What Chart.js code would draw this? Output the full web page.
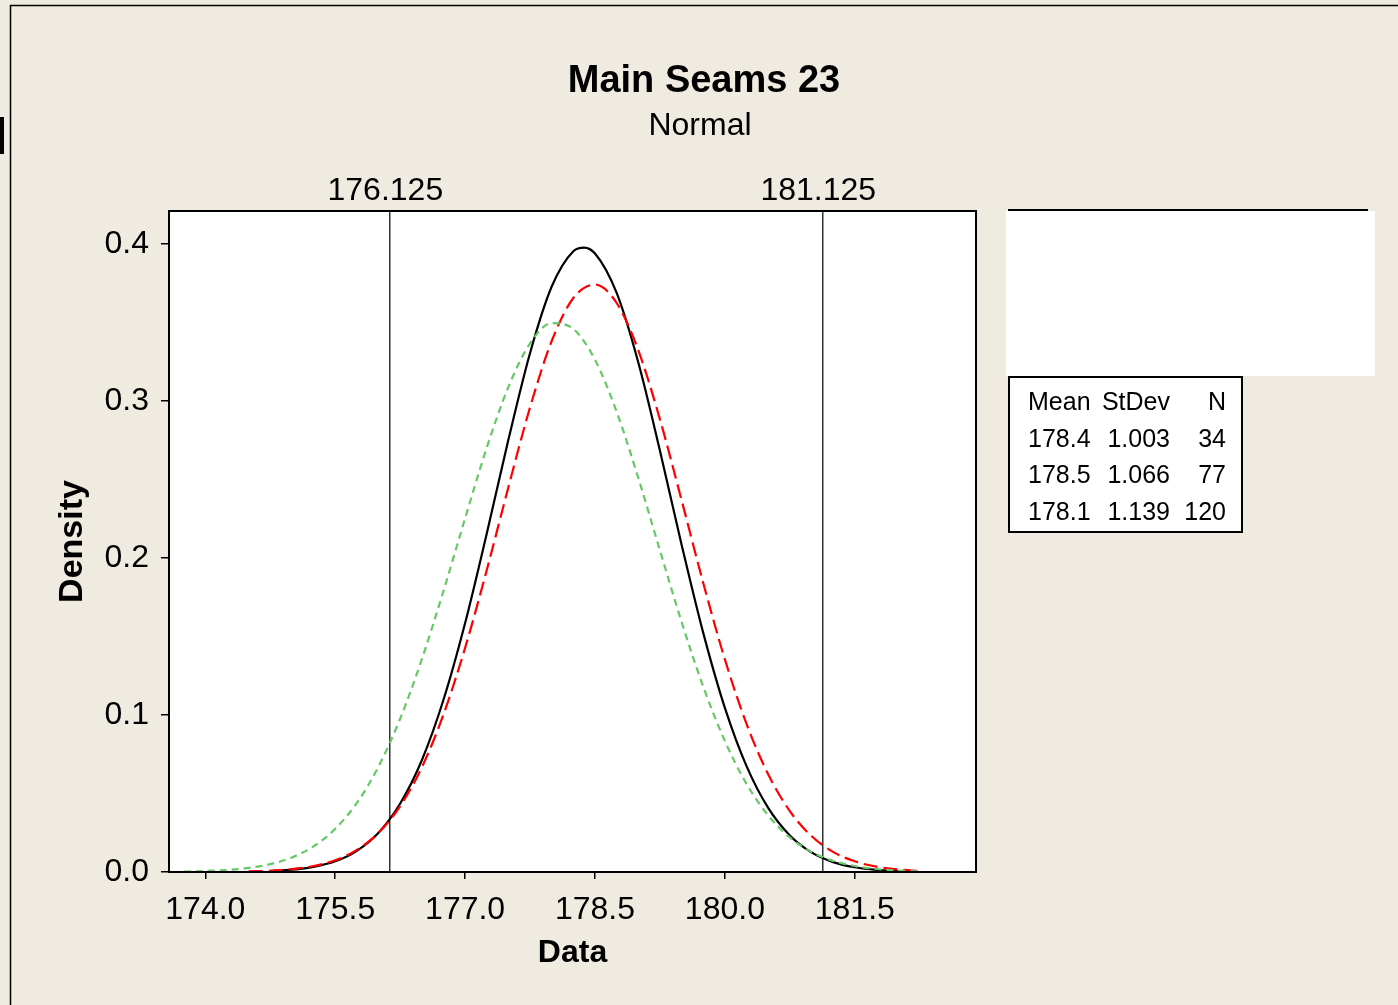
<!DOCTYPE html>
<html><head><meta charset="utf-8">
<script src="https://cdn.jsdelivr.net/npm/chart.js@4.4.1/dist/chart.umd.min.js"></script>
<style>html,body{margin:0;padding:0;background:#EFEBE1;overflow:hidden}#wrap{width:1398px;height:1005px;position:relative}canvas{display:block}</style>
</head><body><div id="wrap"><canvas id="c" width="1398" height="1005"></canvas></div>
<script>
const chartTitle = 'Main Seams 23';
const chartSubtitle = 'Normal';
const xAxisTitle = 'Data';
const yAxisTitle = 'Density';
const xTicks = [174.0, 175.5, 177.0, 178.5, 180.0, 181.5];
const yTicks = [0.0, 0.1, 0.2, 0.3, 0.4];
const refLines = [176.125, 181.125];
const tableHeader = ['Mean', 'StDev', 'N'];
const seriesMeans = [178.4, 178.5, 178.1];
const seriesStDevs = [1.003, 1.066, 1.139];
const seriesN = [34, 77, 120];

const blackX = [174.75,175.0,175.25,175.5,175.75,176.0,176.25,176.5,176.75,177.0,177.25,177.5,177.75,178.0,178.25,178.375,178.5,178.75,179.0,179.25,179.5,179.75,180.0,180.25,180.5,180.75,181.0,181.25,181.5,181.75,182.0];
const blackY = [0.0006,0.0015,0.0033,0.0068,0.0135,0.0250,0.0436,0.0712,0.1097,0.1586,0.2156,0.2754,0.3306,0.3729,0.3954,0.3977,0.3939,0.3688,0.3245,0.2683,0.2085,0.1523,0.1045,0.0674,0.0408,0.0233,0.0125,0.0063,0.0030,0.0013,0.0006];
const redX = [174.5,174.75,175.0,175.25,175.5,175.75,176.0,176.25,176.5,176.75,177.0,177.25,177.5,177.75,178.0,178.25,178.5,178.75,179.0,179.25,179.5,179.75,180.0,180.25,180.5,180.75,181.0,181.25,181.5,181.75,182.0,182.25];
const redY = [0.0004,0.0008,0.0018,0.0038,0.0075,0.0141,0.0250,0.0420,0.0667,0.1003,0.1428,0.1923,0.2452,0.2960,0.3382,0.3656,0.3741,0.3624,0.3323,0.2883,0.2368,0.1841,0.1354,0.0943,0.0622,0.0388,0.0229,0.0128,0.0068,0.0034,0.0016,0.0007];
const greenX = [173.75,174.0,174.25,174.5,174.75,175.0,175.25,175.5,175.75,176.0,176.25,176.5,176.75,177.0,177.25,177.5,177.75,178.0,178.25,178.5,178.75,179.0,179.25,179.5,179.75,180.0,180.25,180.5,180.75,181.0,181.25,181.5,181.75,182.0,182.25];
const greenY = [0.0003,0.0006,0.0013,0.0026,0.0050,0.0093,0.0163,0.0275,0.0440,0.0672,0.0977,0.1355,0.1790,0.2253,0.2703,0.3090,0.3367,0.3496,0.3459,0.3262,0.2931,0.2510,0.2048,0.1593,0.1180,0.0834,0.0561,0.0360,0.0220,0.0128,0.0071,0.0038,0.0019,0.0009,0.0004];

const FONT = "'Liberation Sans', Arial, sans-serif";
const BG = '#EFEBE1';

function pts(xs, ys) { return xs.map((x, i) => ({x: x, y: ys[i]})); }

const decor = {
  id: 'decor',
  beforeDraw(chart) {
    const ctx = chart.ctx, a = chart.chartArea;
    ctx.save();
    ctx.fillStyle = BG; ctx.fillRect(0, 0, chart.width, chart.height);
    ctx.strokeStyle = '#000'; ctx.lineWidth = 1.5;
    ctx.beginPath(); ctx.moveTo(10.5, chart.height); ctx.lineTo(10.5, 5.5); ctx.lineTo(chart.width, 5.5); ctx.stroke();
    ctx.fillStyle = '#000'; ctx.fillRect(0, 117, 4, 37);
    ctx.fillStyle = '#fff'; ctx.fillRect(a.left, a.top, a.right - a.left, a.bottom - a.top);
    ctx.fillRect(1006, 211, 369, 165);
    ctx.fillStyle = '#000'; ctx.fillRect(1008, 209, 360, 2);
    ctx.restore();
  },
  afterDraw(chart) {
    const ctx = chart.ctx, a = chart.chartArea;
    ctx.save();
    ctx.strokeStyle = '#000'; ctx.lineWidth = 2;
    ctx.strokeRect(a.left, a.top, a.right - a.left, a.bottom - a.top);
    ctx.fillStyle = '#000'; ctx.textAlign = 'center'; ctx.textBaseline = 'alphabetic';
    ctx.font = 'bold 38px ' + FONT; ctx.fillText(chartTitle, 704, 92);
    ctx.font = '32px ' + FONT; ctx.fillText(chartSubtitle, 700, 135);
    // statistics table
    ctx.fillStyle = '#fff'; ctx.fillRect(1009, 377, 233, 155);
    ctx.strokeStyle = '#000'; ctx.lineWidth = 2; ctx.strokeRect(1009, 377, 233, 155);
    ctx.fillStyle = '#000'; ctx.font = '25px ' + FONT;
    const rows = [tableHeader].concat(seriesMeans.map((m, i) => [m.toFixed(1), seriesStDevs[i].toFixed(3), String(seriesN[i])]));
    const base = [410, 447, 483, 520];
    rows.forEach((r, i) => {
      ctx.textAlign = 'left'; ctx.fillText(r[0], 1028, base[i]);
      ctx.textAlign = 'right'; ctx.fillText(r[1], 1170, base[i]);
      ctx.fillText(r[2], 1226, base[i]);
    });
    ctx.restore();
  }
};

const common = {borderWidth: 2.2, pointRadius: 0, pointHoverRadius: 0, fill: false, cubicInterpolationMode: 'monotone'};

new Chart(document.getElementById('c'), {
  type: 'line',
  data: {
    datasets: [
      Object.assign({label: 'Green', data: pts(greenX, greenY), borderColor: '#66C866', borderDash: [7, 5]}, common),
      Object.assign({label: 'Red', data: pts(redX, redY), borderColor: '#FF0000', borderDash: [14, 6]}, common),
      Object.assign({label: 'Black', data: pts(blackX, blackY), borderColor: '#000000'}, common)
    ]
  },
  options: {
    responsive: false, animation: false, devicePixelRatio: 1,
    layout: {padding: {left: 52, right: 422, top: 150, bottom: 33}},
    plugins: {legend: {display: false}, tooltip: {enabled: false}, title: {display: false}},
    scales: {
      x: {
        type: 'linear', position: 'bottom', min: 173.58, max: 182.9,
        afterBuildTicks: s => { s.ticks = xTicks.map(v => ({value: v})); },
        afterFit: s => { s.height = 100; },
        ticks: {callback: v => Number(v).toFixed(1), font: {family: FONT, size: 32}, color: '#000', padding: 12, maxRotation: 0, autoSkip: false},
        grid: {drawOnChartArea: false, drawTicks: true, tickLength: 7, color: '#000', lineWidth: 1.5},
        border: {display: false},
        title: {display: true, text: xAxisTitle, font: {family: FONT, size: 32, weight: 'bold'}, color: '#000', padding: {top: 0, bottom: 0}}
      },
      x2: {
        type: 'linear', position: 'top', min: 173.58, max: 182.9,
        afterBuildTicks: s => { s.ticks = refLines.map(v => ({value: v})); },
        afterFit: s => { s.height = 61; },
        ticks: {callback: v => String(v), font: {family: FONT, size: 32}, color: '#000', padding: 1, labelOffset: -4, maxRotation: 0, autoSkip: false},
        grid: {drawOnChartArea: true, drawTicks: false, color: '#333', lineWidth: 1.5},
        border: {display: false}
      },
      y: {
        type: 'linear', position: 'left', min: 0, max: 0.421,
        afterBuildTicks: s => { s.ticks = yTicks.map(v => ({value: v})); },
        afterFit: s => { s.width = 117; },
        ticks: {callback: v => Number(v).toFixed(1), font: {family: FONT, size: 32}, color: '#000', padding: 12},
        grid: {drawOnChartArea: false, drawTicks: true, tickLength: 8, color: '#000', lineWidth: 1.5},
        border: {display: false},
        title: {display: true, text: yAxisTitle, font: {family: FONT, size: 34, weight: 'bold'}, color: '#000', padding: {top: 0, bottom: 0}}
      }
    }
  },
  plugins: [decor]
});
</script></body></html>
